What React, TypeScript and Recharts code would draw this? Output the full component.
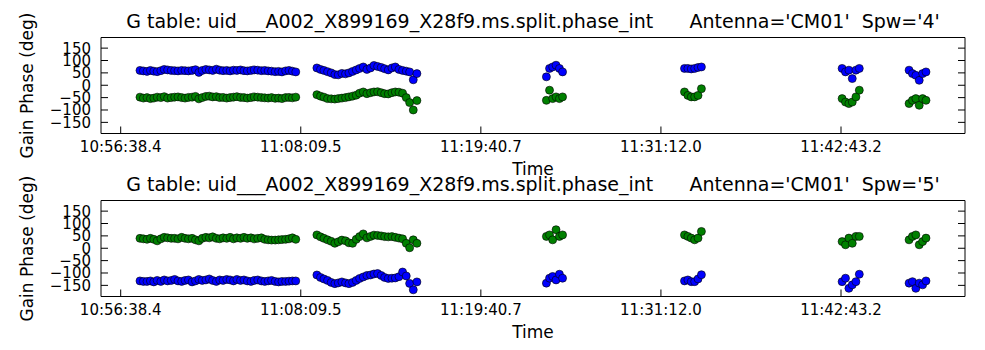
import { Scatter, ScatterChart, XAxis, YAxis } from 'recharts'

// seconds after 10:56:38.4
const scanTimes = [
  74, 87, 101, 114, 127, 140, 154, 167, 180, 194, 207, 220, 234, 247, 260, 274, 287, 300, 313, 327,
  340, 353, 367, 380, 393, 407, 420, 433, 446, 460, 473, 486, 500, 513, 526, 540, 553, 566, 579, 593,
  606, 619, 633, 646, 659, 672,
  753, 767, 780, 794, 808, 822, 835, 849, 863, 876, 890, 904, 917, 931, 945, 959, 972, 986, 1000, 1013,
  1027, 1041, 1054, 1068, 1082, 1096, 1109, 1123, 1137,
  1634, 1646, 1658, 1671, 1684, 1696,
  2164, 2177, 2190, 2203, 2216, 2229,
  2769, 2782, 2795, 2808, 2822, 2835,
  3026, 3039, 3052, 3065, 3078, 3091,
]

const timeTicks = [0, 691.2, 1382.4, 2073.6, 2764.8]
const timeLabels = ['10:56:38.4', '11:08:09.5', '11:19:40.7', '11:31:12.0', '11:42:43.2']
const phaseTicks = [-150, -100, -50, 0, 50, 100, 150]

const spw4Blue = [
  60, 58, 56, 60, 57, 55, 59, 64, 62, 60, 59, 58, 60, 59, 58, 60, 63, 52, 60, 64,
  62, 60, 65, 61, 59, 60, 58, 61, 60, 62, 59, 58, 60, 62, 61, 59, 60, 58, 57, 55,
  56, 54, 58, 60, 57, 54,
  70, 64, 60, 55, 50, 43, 42, 48, 46, 50, 56, 62, 68, 74, 64, 70, 80, 76, 72, 67,
  62, 70, 74, 64, 60, 57, 54, 22, 47,
  34, 68, 74, 81, 68, 54,
  68, 68, 66, 68, 72, 74,
  68, 54, 61, 27, 61, 68,
  61, 47, 40, 20, 47, 54,
]
const spw4Green = [
  -48, -52, -50, -54, -52, -48, -50, -46, -52, -50, -48, -47, -50, -52, -49, -48, -45, -55, -50, -45,
  -44, -47, -46, -50, -49, -52, -50, -48, -46, -49, -50, -52, -50, -47, -48, -50, -51, -52, -50, -53,
  -52, -54, -50, -49, -51, -48,
  -38, -44, -48, -54, -55, -56, -54, -52, -50, -47, -44, -40, -32, -27, -34, -30, -27, -26, -30, -34,
  -35, -30, -27, -28, -32, -50, -70, -100, -62,
  -61, -20, -54, -47, -54, -47,
  -27, -41, -47, -47, -41, -14,
  -54, -68, -74, -68, -47, -20,
  -74, -61, -54, -81, -54, -61,
]
const spw5Green = [
  40, 38, 36, 40, 36, 30, 38, 44, 42, 40, 40, 38, 44, 40, 38, 40, 34, 30, 40, 44,
  42, 46, 40, 38, 42, 40, 44, 38, 42, 40, 44, 40, 42, 38, 40, 42, 36, 34, 33, 33,
  34, 35, 36, 38, 42, 36,
  54, 46, 40, 34, 28, 20, 26, 33, 30, 22, 20, 36, 47, 58, 42, 48, 53, 52, 50, 47,
  46, 47, 44, 41, 38, 20, 2, 34, 20,
  48, 54, 34, 75, 48, 54,
  54, 48, 41, 34, 41, 68,
  27, 14, 41, 20, 48, 48,
  34, 48, 54, 14, 27, 41,
]
const spw5Blue = [
  -132, -134, -134, -132, -136, -130, -134, -128, -132, -130, -126, -132, -134, -130, -128, -136, -132, -126, -130, -128,
  -124, -130, -134, -128, -130, -126, -128, -132, -126, -130, -128, -132, -134, -130, -128, -132, -134, -132, -130, -134,
  -136, -134, -134, -133, -132, -132,
  -108, -118, -124, -130, -138, -143, -140, -136, -140, -143, -138, -130, -122, -116, -110, -108, -104, -102, -110, -118,
  -122, -121, -120, -115, -96, -112, -142, -168, -136,
  -141, -121, -114, -128, -105, -121,
  -132, -128, -135, -135, -124, -107,
  -135, -121, -162, -148, -135, -105,
  -141, -135, -162, -141, -148, -132,
]

const FONT = '"DejaVu Sans", sans-serif'
const timeDomain = [-75.6, 3240.7]
const phaseDomain = [-195, 193]
const TICK = 7

const toPoints = (vals: number[]) => scanTimes.map((t, i) => ({ t, phase: vals[i] }))

const BottomTick = (p: any) => {
  const i = timeTicks.indexOf(p.payload.value)
  return (
    <g>
      <line x1={p.x} y1={p.y} x2={p.x} y2={p.y - TICK} stroke="#000" />
      <text x={p.x} y={p.y + 18} textAnchor="middle" fontSize={15} fontFamily={FONT} fill="#000">
        {timeLabels[i]}
      </text>
    </g>
  )
}
const TopTick = (p: any) => <line x1={p.x} y1={p.y} x2={p.x} y2={p.y + TICK} stroke="#000" />
const LeftTick = (p: any) => {
  const v = p.payload.value
  return (
    <g>
      <line x1={p.x} y1={p.y} x2={p.x + TICK} y2={p.y} stroke="#000" />
      <text x={p.x - 10} y={p.y + 5.5} textAnchor="end" fontSize={15} fontFamily={FONT} fill="#000">
        {v < 0 ? '\u2212' + Math.abs(v) : String(v)}
      </text>
    </g>
  )
}
const RightTick = (p: any) => <line x1={p.x} y1={p.y} x2={p.x - TICK} y2={p.y} stroke="#000" />

const dot = (color: string) => (p: any) =>
  <circle cx={p.cx} cy={p.cy} r={4} fill={color} stroke="#000" strokeWidth={0.6} />

function Panel({ top, height, blue, green }: { top: number; height: number; blue: number[]; green: number[] }) {
  return (
    <div style={{ position: 'absolute', left: 0, top }}>
      <ScatterChart width={985} height={height} margin={{ top: 27.5, right: 10, bottom: 0, left: 0 }}>
        <XAxis
          xAxisId={0} type="number" dataKey="t" domain={timeDomain} ticks={timeTicks} interval={0}
          allowDataOverflow height={height - 37.5 - 96} tickSize={0} tickMargin={0}
          axisLine={{ stroke: '#000' }} tick={BottomTick}
        />
        <XAxis
          xAxisId="top" orientation="top" type="number" domain={timeDomain} ticks={timeTicks} interval={0}
          allowDataOverflow height={10} tickSize={0} tickMargin={0} axisLine={{ stroke: '#000' }} tick={TopTick}
        />
        <YAxis
          yAxisId={0} type="number" dataKey="phase" domain={phaseDomain} ticks={phaseTicks} interval={0}
          allowDataOverflow width={101} tickSize={0} tickMargin={0} axisLine={{ stroke: '#000' }} tick={LeftTick}
        />
        <YAxis
          yAxisId="right" orientation="right" type="number" domain={phaseDomain} ticks={phaseTicks} interval={0}
          allowDataOverflow width={10} tickSize={0} tickMargin={0} axisLine={{ stroke: '#000' }} tick={RightTick}
        />
        <Scatter data={toPoints(blue)} shape={dot('#0000ff')} isAnimationActive={false} />
        <Scatter data={toPoints(green)} shape={dot('#008000')} isAnimationActive={false} />
      </ScatterChart>
    </div>
  )
}

const titleBase = 'G table: uid___A002_X899169_X28f9.ms.split.phase_int      Antenna=\'CM01\'  Spw='

export default function App() {
  return (
    <div style={{ position: 'absolute', left: 0, top: 0, width: 985, height: 350, background: '#fff' }}>
      <Panel top={0} height={175} blue={spw4Blue} green={spw4Green} />
      <Panel top={163} height={187} blue={spw5Blue} green={spw5Green} />
      <svg width={985} height={350} style={{ position: 'absolute', left: 0, top: 0, pointerEvents: 'none' }}>
        <g fontFamily={FONT} fill="#000">
          {[{ dy: 0, spw: '4' }, { dy: 163, spw: '5' }].map(({ dy, spw }) => (
            <g key={spw}>
              <text x={533} y={28 + dy} fontSize={19} textAnchor="middle" xmlSpace="preserve" style={{ whiteSpace: 'pre' }}>
                {titleBase + `'${spw}'`}
              </text>
              <text x={533} y={175 + dy} fontSize={17} textAnchor="middle">Time</text>
              <text
                x={33} y={85.5 + dy} fontSize={17} textAnchor="middle"
                transform={`rotate(-90 33 ${85.5 + dy})`}
              >
                Gain Phase (deg)
              </text>
            </g>
          ))}
        </g>
      </svg>
    </div>
  )
}
